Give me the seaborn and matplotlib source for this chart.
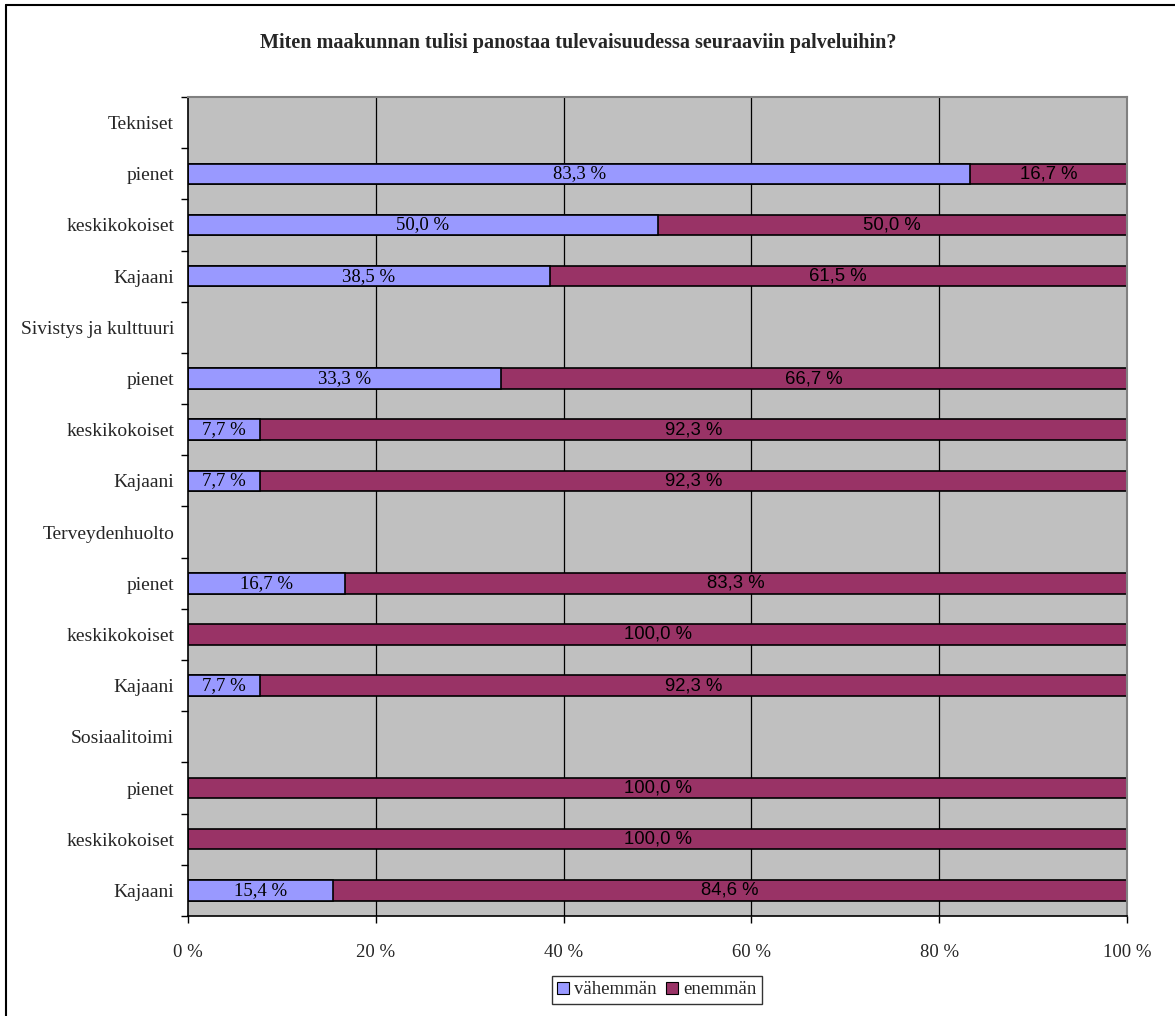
import matplotlib
matplotlib.use("Agg")
import matplotlib.pyplot as plt
import seaborn as sns
import pandas as pd
import numpy as np
from matplotlib.patches import Patch
from matplotlib.lines import Line2D

# ---- data ----
row_labels = ["Tekniset", "pienet", "keskikokoiset", "Kajaani",
              "Sivistys ja kulttuuri", "pienet", "keskikokoiset", "Kajaani",
              "Terveydenhuolto", "pienet", "keskikokoiset", "Kajaani",
              "Sosiaalitoimi", "pienet", "keskikokoiset", "Kajaani"]
vahemman = [None, 83.3, 50.0, 38.5,
            None, 33.3, 7.7, 7.7,
            None, 16.7, 0.0, 7.7,
            None, 0.0, 0.0, 15.4]
enemman = [None, 16.7, 50.0, 61.5,
           None, 66.7, 92.3, 92.3,
           None, 83.3, 100.0, 92.3,
           None, 100.0, 100.0, 84.6]
series_names = ["vähemmän", "enemmän"]
x_ticks = [0, 20, 40, 60, 80, 100]
title = "Miten maakunnan tulisi panostaa tulevaisuudessa seuraaviin palveluihin?"

C_LOW = "#9999FF"
C_HIGH = "#993366"
BG = "#C0C0C0"

keys = [f"r{i}" for i in range(len(row_labels))]
df = pd.DataFrame({"key": keys, "v": vahemman, "e": enemman})
df = df.dropna().copy()
df["total"] = df["v"] + df["e"]

sns.set_theme(style="white")
plt.rcParams["font.family"] = ["Liberation Serif", "DejaVu Serif"]

W, H = 1175, 1016
fig = plt.figure(figsize=(W / 100, H / 100), dpi=100)
L, R, T, B = 188, 1127, 97, 916
ax = fig.add_axes([L / W, 1 - B / H, (R - L) / W, (B - T) / H])
ax.set_facecolor(BG)

# stacked: total first (enemmän colour), then vähemmän on top
sns.barplot(data=df, y="key", x="total", order=keys, orient="h", color=C_HIGH,
            saturation=1, edgecolor="black", linewidth=1.2, width=0.4, ax=ax, errorbar=None)
sns.barplot(data=df, y="key", x="v", order=keys, orient="h", color=C_LOW,
            saturation=1, edgecolor="black", linewidth=1.2, width=0.4, ax=ax, errorbar=None)

ax.set_xlim(0, 100)
ax.set_ylim(len(keys) - 0.5, -0.5)
ax.set_xlabel("")
ax.set_ylabel("")

# grid
for xv in x_ticks[1:-1]:
    ax.axvline(xv, color="black", lw=0.9, zorder=0.5)
ax.set_axisbelow(True)

# labels on bars
def fmt(v):
    return f"{v:.1f}".replace(".", ",") + " %"

for _, r in df.iterrows():
    yi = keys.index(r["key"])
    if r["v"] > 0:
        ax.text(r["v"] / 2, yi, fmt(r["v"]), ha="center", va="center",
                fontsize=13.5, family=["Liberation Serif"], color="black", zorder=5)
    if r["e"] > 0:
        ax.text(r["v"] + r["e"] / 2, yi, fmt(r["e"]), ha="center", va="center",
                fontsize=13.3, family=["Liberation Sans"], color="black", zorder=5)

# y ticks: labels at centers, tick marks at band boundaries
ax.set_yticks(range(len(keys)))
ax.set_yticklabels(row_labels, fontsize=14)
ax.set_yticks(np.arange(-0.5, len(keys), 1.0), minor=True)
ax.tick_params(axis="y", which="major", length=0, pad=10)
ax.tick_params(axis="y", which="minor", length=5, width=1, color="black", direction="out", left=True)

ax.set_xticks(x_ticks)
ax.set_xticklabels([f"{t} %" for t in x_ticks], fontsize=13.5)
ax.tick_params(axis="x", which="major", length=5, width=1, color="black", direction="out",
               bottom=True, pad=15)

for s in ["left", "bottom"]:
    ax.spines[s].set_visible(True)
    ax.spines[s].set_color("black")
    ax.spines[s].set_linewidth(1.2)
for s in ["top", "right"]:
    ax.spines[s].set_visible(True)
    ax.spines[s].set_color("#808080")
    ax.spines[s].set_linewidth(1.5)

# title
fig.text(578 / W, 1 - 43 / H, title, ha="center", va="center",
         fontsize=14.5, fontweight="bold", family=["Liberation Serif"])

# legend
handles = [Patch(facecolor=C_LOW, edgecolor="black", linewidth=0.8),
           Patch(facecolor=C_HIGH, edgecolor="black", linewidth=0.8)]
leg = fig.legend(handles, series_names, loc="center", bbox_to_anchor=(657 / W, 1 - 990 / H),
                 ncol=2, frameon=True, fancybox=False, fontsize=13.5, handlelength=0.6,
                 handleheight=0.6, handletextpad=0.3, columnspacing=0.5, borderpad=0.3)
leg.get_frame().set_edgecolor("black")
leg.get_frame().set_linewidth(1.0)

# figure border (left and top visible)
fig.add_artist(Line2D([6 / W, 6 / W], [0, 1 - 5 / H], transform=fig.transFigure, color="black", lw=1.5))
fig.add_artist(Line2D([6 / W, 1], [1 - 5 / H, 1 - 5 / H], transform=fig.transFigure, color="black", lw=1.5))

fig.savefig("out.png", dpi=100, facecolor="white")
